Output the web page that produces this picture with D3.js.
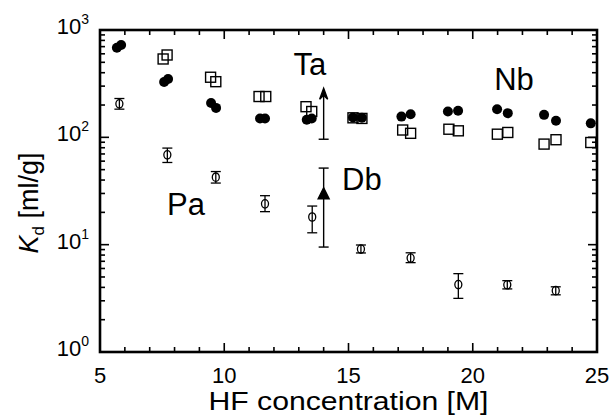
<!DOCTYPE html>
<html>
<head>
<meta charset="utf-8">
<script src="https://cdn.jsdelivr.net/npm/d3@7"></script>
<style>
  html, body { margin: 0; padding: 0; background: #fff; }
  svg { display: block; }
  text { font-family: "Liberation Sans", Arial, Helvetica, sans-serif; fill: #000; }
</style>
</head>
<body>
<svg id="chart" width="611" height="417"></svg>
<script>
// ---------------- data ----------------
// Nb (filled circles)
const nbX = [5.68, 5.85, 7.58, 7.74, 9.47, 9.67, 11.44, 11.64, 13.32, 13.52, 15.18, 15.54, 17.13, 17.5, 19.0, 19.41, 20.98, 21.41, 22.87, 23.35, 24.75];
const nbY = [684, 725, 328, 350, 209, 188, 150, 150, 146, 150, 153, 152, 156, 164, 174, 177, 183, 168, 162, 143, 135];
// Ta (open squares)
const taX = [7.54, 7.7, 9.45, 9.66, 11.4, 11.67, 13.29, 13.52, 15.18, 15.54, 17.18, 17.5, 19.04, 19.42, 20.99, 21.41, 22.87, 23.35, 24.75];
const taY = [537, 585, 363, 330, 240, 240, 193, 174, 152, 150, 117, 109, 119, 115, 107, 111, 86.5, 95, 89.5];
// Pa (open circles with error bars)
const paX  = [5.78, 7.71, 9.66, 11.64, 13.54, 15.5, 17.5, 19.42, 21.39, 23.34];
const paY  = [205, 68.7, 42.5, 24.0, 18.1, 9.1, 7.5, 4.25, 4.23, 3.73];
const paLo = [183, 58.3, 37.5, 20.3, 12.9, 8.37, 6.8, 3.16, 3.87, 3.41];
const paHi = [230, 79.4, 48.0, 28.6, 22.9, 9.93, 8.4, 5.37, 4.62, 4.05];
// Db (filled triangle with error bar)
const dbX = [14.0];
const dbY = [29.2];
const dbLo = [9.5];
const dbHi = [51.7];
// Ta single-atom lower limit (arrow)
const taLimX = [14.0];
const taLimLo = [96];
const taLimHi = [287];
// element labels (data coordinates)
const labelText = ["Ta", "Nb", "Db", "Pa"];
const labelX = [13.45, 21.66, 15.54, 8.46];
const labelY = [381, 276, 32.3, 18.9];
// axis ticks
const xTicks = [5, 10, 15, 20, 25];
const xMinor = d3.range(5, 26, 1);
const yExp = [0, 1, 2, 3];

// ---------------- layout ----------------
const L = 100, R = 597, T = 30, B = 352;
const svg = d3.select("#chart");
const x = d3.scaleLinear().domain([5, 25]).range([L, R]);
const y = d3.scaleLog().domain([1, 1000]).range([B, T]);

// ticks
const ticks = svg.append("g").attr("stroke", "#000").attr("stroke-width", 1.6);
const yMinor = [];
for (let e = 0; e < 3; e++) for (let m = 2; m <= 9; m++) yMinor.push(m * Math.pow(10, e));
const majY = yExp.map(e => Math.pow(10, e));
xMinor.forEach(v => {
  const len = xTicks.includes(v) ? 9 : 5;
  ticks.append("line").attr("x1", x(v)).attr("x2", x(v)).attr("y1", B).attr("y2", B - len);
  ticks.append("line").attr("x1", x(v)).attr("x2", x(v)).attr("y1", T).attr("y2", T + len);
});
yMinor.concat(majY).forEach(v => {
  const len = majY.includes(v) ? 9 : 5;
  ticks.append("line").attr("x1", L).attr("x2", L + len).attr("y1", y(v)).attr("y2", y(v));
  ticks.append("line").attr("x1", R).attr("x2", R - len).attr("y1", y(v)).attr("y2", y(v));
});

// frame
svg.append("rect").attr("x", L).attr("y", T).attr("width", R - L).attr("height", B - T)
  .attr("fill", "none").attr("stroke", "#000").attr("stroke-width", 2.6);

// x tick labels
svg.append("g").selectAll("text").data(xTicks).join("text")
  .attr("x", d => x(d)).attr("y", B + 31)
  .attr("text-anchor", "middle").attr("font-size", 22)
  .text(d => d);

// y tick labels 10^n
const yl = svg.append("g").selectAll("text").data(yExp).join("text")
  .attr("x", L - 11).attr("y", d => y(Math.pow(10, d)) + 4)
  .attr("text-anchor", "end").attr("font-size", 22);
yl.append("tspan").text("10");
yl.append("tspan").attr("font-size", 14).attr("dy", -10).text(d => d);

// axis titles
svg.append("text").attr("x", (L + R) / 2).attr("y", 410)
  .attr("text-anchor", "middle").attr("font-size", 25)
  .attr("textLength", 280).attr("lengthAdjust", "spacingAndGlyphs")
  .text("HF concentration [M]");
const yt = svg.append("text").attr("transform", "translate(38,203) rotate(-90)")
  .attr("text-anchor", "middle").attr("font-size", 27);
yt.append("tspan").attr("font-style", "italic").text("K");
yt.append("tspan").attr("font-size", 17).attr("dy", 6).text("d");
yt.append("tspan").attr("dy", -6).text(" [ml/g]");

// Ta squares
svg.append("g").selectAll("rect").data(taX).join("rect")
  .attr("x", (d, i) => x(d) - 5).attr("y", (d, i) => y(taY[i]) - 5)
  .attr("width", 10).attr("height", 10)
  .attr("fill", "none").attr("stroke", "#000").attr("stroke-width", 1.4);

// Nb filled circles
svg.append("g").selectAll("circle").data(nbX).join("circle")
  .attr("cx", d => x(d)).attr("cy", (d, i) => y(nbY[i])).attr("r", 5)
  .attr("fill", "#000");

// Pa error bars and circles
const pa = svg.append("g").attr("stroke", "#000").attr("stroke-width", 1.3).attr("fill", "none");
paX.forEach((v, i) => {
  const cx = x(v);
  pa.append("line").attr("x1", cx).attr("x2", cx).attr("y1", y(paLo[i])).attr("y2", y(paHi[i]));
  pa.append("line").attr("x1", cx - 5).attr("x2", cx + 5).attr("y1", y(paLo[i])).attr("y2", y(paLo[i]));
  pa.append("line").attr("x1", cx - 5).attr("x2", cx + 5).attr("y1", y(paHi[i])).attr("y2", y(paHi[i]));
  pa.append("ellipse").attr("cx", cx).attr("cy", y(paY[i])).attr("rx", 3.5).attr("ry", 4.2);
});

// Db triangle with error bar
const db = svg.append("g").attr("stroke", "#000").attr("stroke-width", 1.4);
dbX.forEach((v, i) => {
  const cx = x(v);
  db.append("line").attr("x1", cx).attr("x2", cx).attr("y1", y(dbLo[i])).attr("y2", y(dbHi[i]));
  db.append("line").attr("x1", cx - 5).attr("x2", cx + 5).attr("y1", y(dbLo[i])).attr("y2", y(dbLo[i]));
  db.append("line").attr("x1", cx - 5).attr("x2", cx + 5).attr("y1", y(dbHi[i])).attr("y2", y(dbHi[i]));
  const cy = y(dbY[i]);
  db.append("path").attr("d", `M${cx},${cy - 7}L${cx + 5.5},${cy + 4}L${cx - 5.5},${cy + 4}Z`).attr("fill", "#000");
});

// Ta lower-limit arrow
const ar = svg.append("g").attr("stroke", "#000").attr("stroke-width", 1.4);
taLimX.forEach((v, i) => {
  const cx = x(v), y0 = y(taLimLo[i]), y1 = y(taLimHi[i]);
  ar.append("line").attr("x1", cx).attr("x2", cx).attr("y1", y0).attr("y2", y1 + 4);
  ar.append("line").attr("x1", cx - 5).attr("x2", cx + 5).attr("y1", y0).attr("y2", y0);
  ar.append("path").attr("d", `M${cx},${y1}L${cx + 4},${y1 + 11}L${cx},${y1 + 7}L${cx - 4},${y1 + 11}Z`).attr("fill", "#000");
});

// element labels
svg.append("g").selectAll("text").data(labelText).join("text")
  .attr("x", (d, i) => x(labelX[i])).attr("y", (d, i) => y(labelY[i]))
  .attr("text-anchor", "middle").attr("font-size", 31)
  .text(d => d);
</script>
</body>
</html>
